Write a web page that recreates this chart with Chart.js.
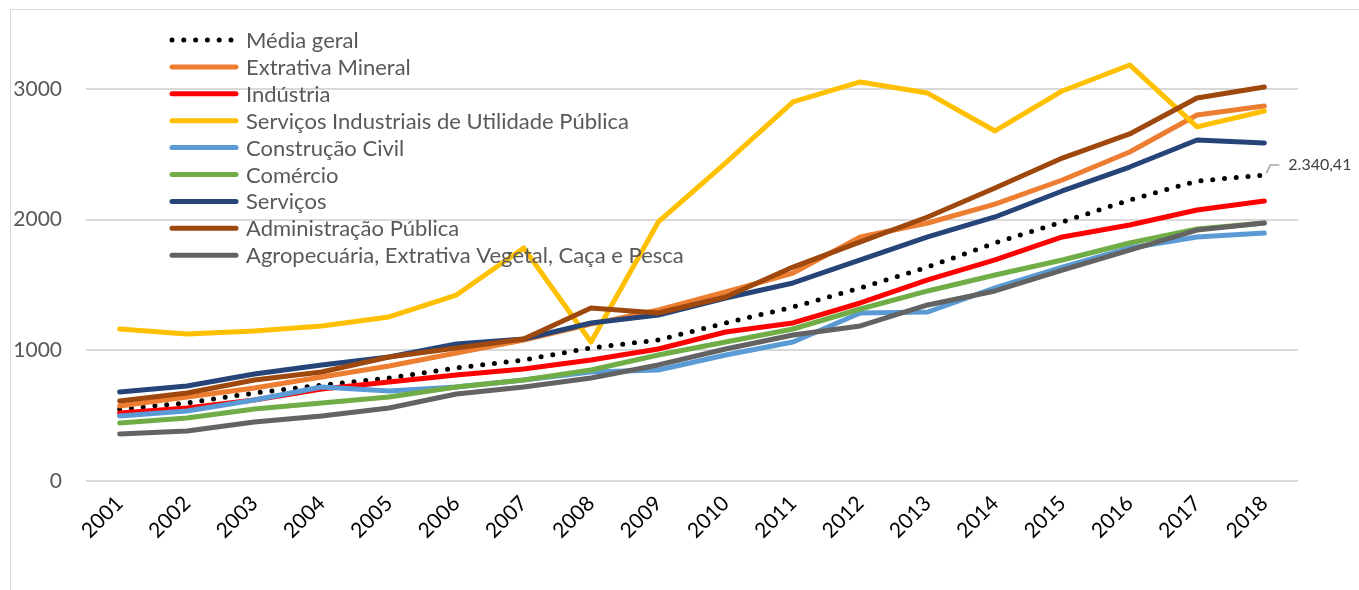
<!DOCTYPE html>
<html>
<head>
<meta charset="utf-8">
<script src="https://cdn.jsdelivr.net/npm/chart.js@4/dist/chart.umd.min.js"></script>
<style>
  html, body { margin: 0; padding: 0; background: #fff; overflow: hidden; }
  #wrap { position: relative; width: 1359px; height: 590px; }
  #frame { position: absolute; left: 10px; top: 9px; width: 1400px; height: 700px; border: 1px solid #d9d9d9; }
  canvas { position: absolute; left: 0; top: 0; }
</style>
</head>
<body>
<div id="wrap">
  <div id="frame"></div>
  <canvas id="chart" width="1359" height="590"></canvas>
</div>
<script>
const years = ['2001','2002','2003','2004','2005','2006','2007','2008','2009','2010','2011','2012','2013','2014','2015','2016','2017','2018']
const yTicks = [0, 1000, 2000, 3000]

const mediaGeral = [551, 597, 673, 734, 788, 865, 926, 1018, 1079, 1209, 1331, 1477, 1637, 1821, 1982, 2150, 2295, 2340.41]
const extrativaMineral = [574, 643, 711, 796, 880, 979, 1079, 1200, 1308, 1446, 1591, 1867, 1974, 2119, 2303, 2517, 2800, 2869]
const industria = [520, 559, 620, 704, 757, 811, 857, 926, 1010, 1140, 1209, 1362, 1538, 1691, 1867, 1959, 2073, 2142]
const servIndUtilPublica = [1163, 1125, 1148, 1186, 1255, 1423, 1783, 1063, 1982, 2433, 2900, 3053, 2968, 2678, 2984, 3183, 2709, 2831]
const construcaoCivil = [497, 536, 620, 719, 689, 719, 773, 834, 849, 964, 1064, 1285, 1293, 1477, 1637, 1783, 1867, 1897]
const comercio = [444, 482, 551, 597, 643, 719, 773, 849, 964, 1064, 1163, 1316, 1454, 1576, 1691, 1821, 1928, 1974]
const servicos = [681, 727, 819, 888, 949, 1048, 1086, 1209, 1270, 1400, 1515, 1691, 1867, 2020, 2219, 2402, 2609, 2586]
const admPublica = [612, 673, 773, 834, 949, 1018, 1086, 1324, 1285, 1408, 1637, 1829, 2020, 2242, 2471, 2655, 2930, 3015]
const agropecuaria = [360, 383, 451, 497, 559, 666, 719, 788, 888, 1010, 1117, 1186, 1347, 1454, 1614, 1767, 1920, 1974]

const series = [
  { label: 'Média geral', data: mediaGeral, color: '#000000', dotted: true },
  { label: 'Extrativa Mineral', data: extrativaMineral, color: '#ED7D31' },
  { label: 'Indústria', data: industria, color: '#FF0000' },
  { label: 'Serviços Industriais de Utilidade Pública', data: servIndUtilPublica, color: '#FFC000' },
  { label: 'Construção Civil', data: construcaoCivil, color: '#5B9BD5' },
  { label: 'Comércio', data: comercio, color: '#70AD47' },
  { label: 'Serviços', data: servicos, color: '#264478' },
  { label: 'Administração Pública', data: admPublica, color: '#9E480E' },
  { label: 'Agropecuária, Extrativa Vegetal, Caça e Pesca', data: agropecuaria, color: '#636363' }
]

const FONT = 'Lato, Calibri, sans-serif'
const TEXT = '#595959'

function fmtBR(v) {
  const parts = v.toFixed(2).split('.')
  return parts[0].replace(/\B(?=(\d{3})+(?!\d))/g, '.') + ',' + parts[1]
}

// legend drawn inside the plot, top left, like the original
const insideLegend = {
  id: 'insideLegend',
  afterDraw(chart) {
    const ctx = chart.ctx
    const x0 = 172, x1 = 236, y0 = 40, step = 26.9
    ctx.save()
    ctx.font = '22px ' + FONT
    ctx.textBaseline = 'middle'
    chart.data.datasets.forEach((ds, i) => {
      const y = y0 + i * step
      ctx.strokeStyle = ds.borderColor
      ctx.lineWidth = 5
      ctx.lineCap = 'round'
      ctx.setLineDash(ds.borderDash || [])
      ctx.beginPath()
      ctx.moveTo(x0, y)
      ctx.lineTo(x1, y)
      ctx.stroke()
      ctx.setLineDash([])
      ctx.fillStyle = TEXT
      ctx.fillText(ds.label, 246, y + 1)
    })
    ctx.restore()
  }
}

// value label on the last point of "Média geral"
const lastLabel = {
  id: 'lastLabel',
  afterDatasetsDraw(chart) {
    const meta = chart.getDatasetMeta(0)
    const pt = meta.data[meta.data.length - 1]
    const val = chart.data.datasets[0].data[meta.data.length - 1]
    const ctx = chart.ctx
    ctx.save()
    ctx.strokeStyle = '#a6a6a6'
    ctx.lineWidth = 1.5
    ctx.beginPath()
    ctx.moveTo(pt.x + 2, pt.y - 2)
    ctx.lineTo(pt.x + 6, pt.y - 10)
    ctx.lineTo(pt.x + 15, pt.y - 10)
    ctx.stroke()
    ctx.fillStyle = '#404040'
    ctx.font = '16px ' + FONT
    ctx.textBaseline = 'middle'
    ctx.fillText(fmtBR(val), pt.x + 24, pt.y - 10)
    ctx.restore()
  }
}

new Chart('chart', {
  type: 'line',
  data: {
    labels: years,
    datasets: series.map((s, i) => ({
      label: s.label,
      data: s.data,
      borderColor: s.color,
      backgroundColor: s.color,
      borderWidth: 5,
      borderCapStyle: 'round',
      borderJoinStyle: 'round',
      borderDash: s.dotted ? [0, 11.8] : [],
      pointRadius: 0,
      tension: 0,
      order: series.length - i
    }))
  },
  options: {
    responsive: false,
    animation: false,
    layout: { padding: { left: 0, top: 0, right: 61, bottom: 0 } },
    plugins: {
      legend: { display: false },
      tooltip: { enabled: false }
    },
    scales: {
      x: {
        offset: true,
        grid: { display: false, drawTicks: false },
        border: { display: false },
        ticks: {
          minRotation: 45, maxRotation: 45, padding: 10,
          color: '#000000',
          font: { family: FONT, size: 21 }
        },
        afterFit(scale) { scale.height = 109 }
      },
      y: {
        min: 0, max: 3400,
        afterBuildTicks(axis) { axis.ticks = yTicks.map(v => ({ value: v })) },
        grid: { color: '#d9d9d9', lineWidth: 2, drawTicks: false },
        border: { display: false },
        ticks: {
          padding: 24,
          color: TEXT,
          font: { family: FONT, size: 21 },
          callback: v => String(v)
        },
        afterFit(scale) { scale.width = 86 }
      }
    }
  },
  plugins: [insideLegend, lastLabel]
})
</script>
</body>
</html>
